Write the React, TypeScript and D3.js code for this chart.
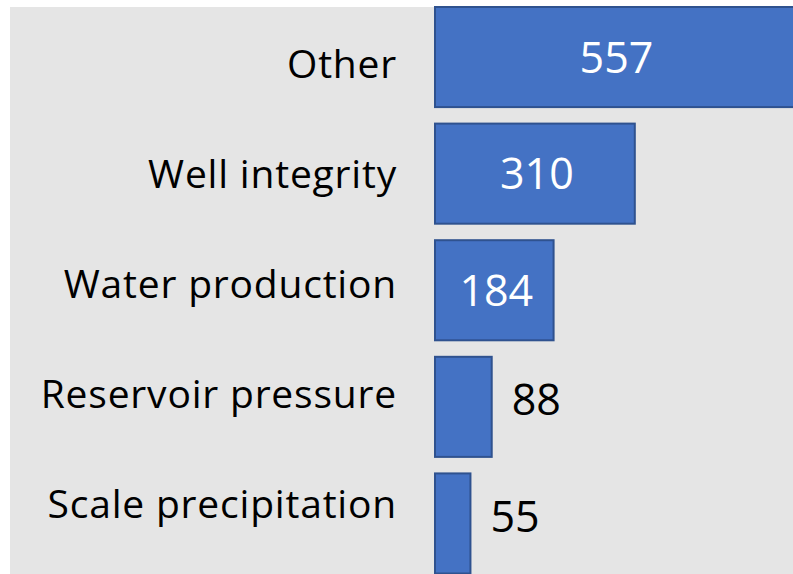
import React from "react";
import * as d3 from "d3";

const categories = [
  "Other",
  "Well integrity",
  "Water production",
  "Reservoir pressure",
  "Scale precipitation",
];
const counts = [557, 310, 184, 88, 55];
// values at or above this are labelled inside their bar
const insideThreshold = 150;

const W = 793;
const H = 574;

export default function App() {
  const x = d3.scaleLinear().domain([0, 557]).range([435, 794]);
  const y = d3
    .scaleBand<string>()
    .domain(categories)
    .range([7, 573.5])
    .paddingInner(0.1416)
    .paddingOuter(0);
  const labelY = d3.scalePoint<string>().domain(categories).range([64, 503.5]);

  const font = "'Open Sans', Lato, sans-serif";

  return (
    <svg
      width={W}
      height={H}
      style={{ position: "absolute", left: 0, top: 0, display: "block" }}
    >
      <rect x={0} y={0} width={W} height={H} fill="#ffffff" />
      <rect x={10} y={7} width={W - 10} height={H - 7} fill="#e5e5e5" />
      {categories.map((c, i) => {
        const v = counts[i];
        const y0 = y(c) as number;
        const bw = y.bandwidth();
        const x1 = x(v);
        const inside = v >= insideThreshold;
        return (
          <g key={c}>
            <rect
              x={x(0)}
              y={y0}
              width={x1 - x(0)}
              height={bw}
              fill="#4472c4"
              stroke="#2f528f"
              strokeWidth={2}
            />
            <text
              x={inside ? (x(0) + x1) / 2 + 2 : x1 + 20}
              y={inside ? y0 + bw / 2 : y0 + bw / 2 - 7}
              dy="0.36em"
              textAnchor={inside ? "middle" : "start"}
              fill={inside ? "#ffffff" : "#000000"}
              fontFamily={font}
              fontSize={43}
              fontWeight={500}
              style={{ fontVariantLigatures: "none" }}
            >
              {v}
            </text>
            <text
              x={397}
              y={labelY(c) as number}
              dy="0.36em"
              textAnchor="end"
              fill="#000000"
              fontFamily={font}
              fontSize={39}
              fontWeight={500}
              letterSpacing={0.8}
              style={{ fontVariantLigatures: "none" }}
            >
              {c}
            </text>
          </g>
        );
      })}
    </svg>
  );
}
